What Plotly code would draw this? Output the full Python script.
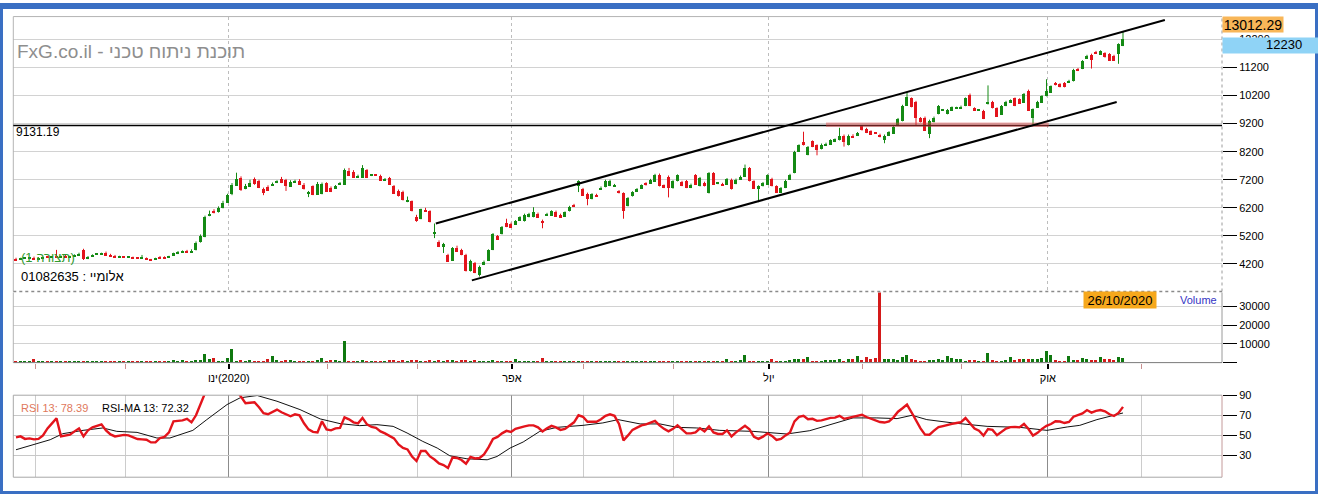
import plotly.graph_objects as go

# ---------------- data ----------------
O = [
4390,4360,4400,4410,4440,4390,4420,4450,4430,4480,
4440,4490,4460,4480,4520,4720,4390,4480,4540,4560,
4600,4530,4490,4460,4450,4430,4440,4420,4410,4410,
4360,4370,4460,4450,4440,4510,4560,4630,4650,4640,
4700,4980,5180,5950,6100,6060,6200,6400,6690,7000,
7290,6900,6970,7230,7160,6880,6970,7010,7100,7250,
7190,6970,7120,7180,7040,6700,6980,6680,6700,7090,
6930,6900,7040,7040,7530,7500,7300,7290,7550,7350,
7370,7350,7180,7280,6990,6830,6790,6440,6440,5900,
5810,6130,6090,5290,5000,4820,4530,4330,4770,4710,
4530,3950,4240,3830,4180,4330,4710,5200,5270,5670,
5640,5620,5760,5730,5880,5880,6000,5760,5940,5940,
6080,5970,5900,6090,6310,6990,6890,6720,6520,6680,
6870,6950,6990,6990,6810,6730,6270,6620,6790,6890,
7090,7070,7150,7390,7010,7330,6920,7160,7135,7160,
6920,7370,6980,7100,6730,7450,7065,7065,7040,7220,
7065,7220,7330,7630,7160,6870,6980,7040,7250,6980,
6750,6920,7210,7450,8210,8560,8090,8580,8440,8300,
8440,8470,8560,8620,8790,8440,8790,8790,9120,9030,
8940,8850,8820,8620,8790,8850,9150,9300,9850,10110,
9990,9410,9430,8850,9260,9550,9670,9550,9670,9770,
9760,9840,10250,9760,9670,9670,9900,9990,9760,9530,
9840,9960,10110,10080,9960,10390,9430,9780,9960,10190,
10310,10660,10620,10660,10690,10720,11160,11160,11530,11670,
11770,11670,11720,11690,11630,11690,11980]

H = [
4420,4420,4430,4440,4460,4440,4460,4470,4480,4700,
4500,4520,4490,4540,4600,4740,4480,4540,4580,4600,
4640,4560,4520,4490,4460,4460,4460,4440,4520,4430,
4380,4420,4480,4470,4490,4600,4660,4680,4700,4720,
5000,5250,5920,6100,6150,6250,6450,6700,7080,7450,
7320,7050,7200,7280,7200,6920,7000,7100,7180,7300,
7230,7180,7200,7220,7080,6800,7000,7120,7100,7110,
6960,7010,7120,7600,7620,7540,7380,7720,7580,7400,
7390,7380,7260,7300,7010,6850,6810,6600,6460,5950,
6170,6200,6110,5640,5040,4950,4560,4800,4850,4740,
4560,4350,4270,4140,4320,4720,5300,5230,5550,5810,
5670,5760,5900,5990,6020,6220,6030,5780,6020,6110,
6100,5990,6070,6270,6340,7180,6910,6740,6720,6700,
6960,7200,7200,7050,6830,6750,6580,6790,6900,7030,
7110,7230,7410,7420,7030,7350,7180,7390,7160,7190,
7060,7400,7300,7130,7470,7470,7120,7090,7260,7240,
7240,7350,7740,7650,7180,7000,7120,7390,7270,7000,
6940,7200,7410,8230,8460,8910,8400,8600,8460,8490,
8520,8640,8670,9050,8810,8810,8820,8900,9140,9050,
8960,8870,8840,8810,8930,9110,9400,9870,10320,10130,
10010,9430,9450,9340,9450,9860,9720,9720,9810,9800,
9840,10130,10270,9780,9700,9690,10560,10010,9780,9860,
10010,10060,10130,10100,10290,10410,9740,10010,10210,10780,
10560,10680,10640,10680,10760,11150,11180,11460,11650,11690,
11790,11810,11740,11710,11650,12060,12480]

L = [
4330,4350,4380,4400,4380,4380,4400,4420,4420,4420,
4420,4450,4440,4470,4510,4340,4370,4460,4520,4540,
4520,4480,4450,4440,4410,4420,4390,4390,4390,4380,
4340,4360,4390,4390,4420,4500,4550,4610,4620,4620,
4680,4960,5150,5900,6000,6030,6180,6380,6650,6980,
6800,6860,6940,7020,6900,6650,6800,6980,7080,7080,
6800,6950,7100,7020,6850,6580,6650,6660,6680,6780,
6760,6880,7020,7020,7330,7270,7280,7270,7260,7330,
7340,7160,7160,7020,6690,6600,6460,6400,6070,5700,
5790,6070,5680,5120,4800,4590,4280,4310,4630,4510,
3930,3930,3870,3750,4160,4310,4690,5060,5250,5510,
5480,5600,5740,5710,5860,5860,5840,5470,5920,5920,
5880,5840,5880,6070,6240,6760,6620,6290,6500,6610,
6850,6930,6970,6970,6710,5810,6250,6600,6770,6870,
6990,7050,7130,6960,6900,6570,6880,7140,6970,6900,
6900,7020,6960,6960,6710,7020,7040,7000,7020,6850,
7040,7200,7310,7140,6880,6400,6960,7020,6960,6730,
6730,6900,7190,7430,8190,8420,8070,8360,8070,8280,
8420,8450,8540,8600,8380,8420,8710,8770,8950,8860,
8800,8830,8710,8500,8770,8830,9130,9280,9830,9780,
9150,9240,8940,8680,9240,9530,9650,9530,9650,9750,
9740,9820,9820,9650,9650,9360,9880,9740,9440,9510,
9820,9940,9820,9910,9940,9650,9150,9760,9940,10170,
10290,10560,10490,10490,10670,10700,11070,11140,11510,11160,
11690,11650,11550,11440,11440,11330,11960]

C = [
4350,4400,4410,4430,4390,4420,4450,4430,4470,4440,
4490,4460,4480,4520,4580,4380,4470,4530,4560,4570,
4530,4490,4460,4470,4430,4440,4400,4400,4420,4390,
4350,4400,4400,4400,4470,4590,4640,4650,4640,4670,
4950,5200,5880,6000,6050,6200,6400,6670,7040,7250,
6850,7000,7090,7050,6930,6760,6830,7070,7160,7100,
6990,7150,7160,7040,6870,6780,6680,7080,7080,6790,
6780,6990,7090,7550,7350,7290,7350,7640,7280,7370,
7360,7180,7230,7040,6710,6620,6480,6490,6090,5730,
6160,6090,5700,5350,4820,4915,4300,4790,4650,4530,
3950,4330,3890,4120,4300,4710,5270,5080,5530,5530,
5500,5740,5880,5970,6000,6050,5860,5700,6000,6090,
5900,5860,6050,6250,6260,7160,6640,6520,6700,6630,
6930,7180,7180,7020,6730,6090,6560,6770,6880,7010,
7010,7210,7390,6980,6920,6920,7160,7370,6990,6920,
7040,7040,7280,6980,7450,7040,7100,7020,7240,6870,
7220,7330,7630,7160,6900,6980,7100,7370,6980,6750,
6920,7180,7390,8210,8440,8440,8380,8380,8270,8470,
8500,8620,8650,8790,8560,8790,8730,8880,8970,8880,
8820,8845,8730,8790,8910,9090,9380,9850,10150,9800,
9430,9260,8960,9320,9430,9840,9700,9700,9790,9790,
9820,10110,9840,9670,9690,9380,9990,9760,9460,9840,
9990,10040,9840,9930,10270,9670,9720,9990,10190,10370,
10540,10580,10510,10510,10740,11130,11090,11440,11630,11480,
11710,11790,11570,11460,11460,12040,12230]

VOL = [
700,600,800,700,1750,600,700,600,700,800,
600,700,600,700,600,800,700,600,700,600,
700,600,700,600,700,600,700,800,600,700,
600,700,600,700,800,1000,700,1200,700,800,
1200,1300,4400,1750,2300,700,600,2300,6800,700,
1200,700,900,700,700,800,1750,3500,900,700,
1100,1100,700,800,700,800,700,1200,2300,700,
1100,1100,700,11000,800,700,800,1000,700,600,
700,800,700,900,1100,800,900,700,900,1000,
800,700,900,700,1100,800,1100,900,800,900,
1200,800,900,800,700,800,900,700,800,700,
800,1600,700,800,700,800,700,2100,700,800,
700,800,700,600,700,800,700,800,700,600,
700,600,700,600,700,800,700,600,700,600,
700,600,700,800,700,800,700,600,700,800,
700,600,700,800,700,800,700,600,1750,700,
800,900,3700,800,700,700,600,700,1750,700,
600,700,900,1600,1600,1600,2600,700,800,700,
1000,1000,900,1600,800,1600,1600,3200,1400,2600,
1900,2300,45000,1600,1600,1600,900,2600,3700,1600,
900,700,700,1000,1000,1600,1000,3500,2100,1600,
1600,700,1000,1000,700,700,4700,1000,700,700,
900,2600,1000,1750,1600,1600,1600,1900,2300,5800,
3700,1000,500,500,3200,1200,1000,2300,1750,1400,
900,2500,1900,1750,1200,2500,2100]

RSI = [
48,49,46.5,47,46,46.5,50,57,62,67,
49,50,50.7,54,57,49,55,58,59.7,61,
55,51,49,49.5,50.5,50,48,46.4,46,45.7,
43,43,47.4,48.5,53,64,64.5,65,66.5,63,
70,80,92,93,92,94,95,96,97,95,
88,82,82.5,83,78,72,71,73,75.7,73,
71,69,71,70,62,56,53.5,53,64,56,
55,57,57.4,68,66,63,62,67.4,61,58.4,
57.5,54,52,49.5,47,41,37.5,36,29,24.5,
34.5,34.5,29,26,22,20.5,17.5,28,27.5,25.5,
21.8,28.5,27,27.5,31,38,46.5,48.5,52,54.5,
53.5,56.5,57.4,59,60,60,58,54,57,59.5,
58,55.5,56.5,60,63,70,68.5,63.5,63.5,63.5,
66,69.5,71,69.5,61.4,45,50,55.5,57.7,60,
61,62.5,64.5,60,56.5,54,56.5,60,55.5,52,
52,53,57,54,59,53,51.4,51.4,55,49,
53,56,59.5,56,48.5,46.5,48.7,52,49.5,45.5,
46.5,50,53,64,68.5,69.5,66,66.5,64.5,65,
66.3,67.4,67.7,69.5,66.5,67.5,68.2,69.5,70.5,68.3,
66.8,64.8,63.3,62.8,64,68,73.6,77,80.6,73,
64.5,57,50.8,50.7,54.7,58.2,59.3,60.7,61.4,62.3,
63.2,67.3,62.4,56.8,54.6,49.8,56.2,55.5,50.2,53.6,
56.8,58.2,58.5,58,61.4,56.4,49.8,52.5,56.5,59.5,
61.3,64,63.8,62.3,63.4,68.6,70.1,71.8,75.2,72.7,
74.4,75.3,74,71,69.3,72.4,78.39]

# RSI-MA line (candle index, value)
MA_IDX = [0,3.8,7.6,10.4,14.9,19.3,22.4,26.9,31.3,34.2,39.3,42.4,46.9,49.8,53.6,
          58,63.1,67.6,72,76.4,80.2,83.8,86.9,90.4,93.6,96.4,100.2,104.7,106.9,109.8,
          112.7,116.4,120.2,126,130.4,133.8,138.7,143.1,146.9,151.3,156.4,163.8,171.3,
          176.4,180.9,186,191.3,195.8,199.1,202.4,208.2,215.8,223.1,229.1,233.6,236.4,
          240.2,243.1,246]
MA_VAL = [35.7,40.7,45.7,51.7,55,57.4,54,53,47.4,47.4,55,65.7,80.7,87.4,89.7,
          84,75.7,66.4,61.7,59.7,60.7,59,52.4,44,37.4,29.7,26.7,25.7,29,37.4,
          43.4,54,58,60,62.4,65.7,61.4,61.4,58,57.4,55,54,51.4,
          54.7,60.7,67.4,67.4,66.7,70,65.7,62.4,59,58,55,58.4,60,
          65.7,69,72.32]

# month boundaries on the candle index axis, and their labels
MONTH_POS = [4.4,24.4,47.3,69.3,89.3,110.2,126.2,146.2,167.3,188.2,210.2,229.3,250.2]
MONTH_LABELS = ['', '', 'ינו\u200e(2020)', '', '', 'אפר', '', '', 'יול', '', '', 'אוק', '']

PRICE_TICKS = [4200,5200,6200,7200,8200,9200,10200,11200,12200]
VOL_TICKS = [0,10000,20000,30000]
VOL_TICKTEXT = ['', '10000', '20000', '30000']
RSI_TICKS = [30,50,70,90]

PRICE_MAX = 13012.29
LAST_CLOSE = 12230
LEVEL_BLACK = 9131.19
LEVEL_RED = 9160
RED_SPAN = [180, 229.5]
CHANNEL_UP = [(93.3, 5640), (255.3, 12892)]
CHANNEL_LOW = [(101.3, 3614), (244.6, 9966)]
LAST_DATE = '26/10/2020'
RSI_LAST = 78.39
MA_LAST = 72.32

assert all(len(a) == len(O) for a in (H, L, C, VOL, RSI))
N = len(O)
IDX = list(range(N))

# ---------------- styling ----------------
W, HT = 1318, 494
def px(x): return x / W
def py(y): return 1 - y / HT

GREEN = '#148a14'
RED = '#e3141c'
VGREEN = '#0f780f'
VRED = '#d41a1a'
FONT = 'Liberation Sans, Arial, DejaVu Sans, sans-serif'

XD = [px(13.3), px(1222)]
XR = [-0.6, 268.0]
YD_P = [py(289), py(10.7)]
YD_V = [py(361), py(290)]
YD_R = [py(477), py(394)]

up = [c >= o for o, c in zip(O, C)]

fig = go.Figure()

# wicks
for flag, col in ((True, GREEN), (False, RED)):
    xs, ys = [], []
    for i in IDX:
        if up[i] == flag:
            xs += [i, i, None]
            ys += [L[i], H[i], None]
    fig.add_trace(go.Scatter(x=xs, y=ys, mode='lines', line=dict(color=col, width=1),
                             hoverinfo='skip', showlegend=False, xaxis='x', yaxis='y'))

# bodies
fig.add_trace(go.Bar(
    x=IDX, y=[max(abs(c - o), 40) for o, c in zip(O, C)], base=[min(o, c) for o, c in zip(O, C)],
    width=0.74, marker=dict(color=[GREEN if u else RED for u in up], line=dict(width=0)),
    showlegend=False, xaxis='x', yaxis='y'))

# volume
fig.add_trace(go.Bar(
    x=IDX, y=VOL, width=0.7,
    marker=dict(color=[VGREEN if u else VRED for u in up], line=dict(width=0)),
    showlegend=False, xaxis='x2', yaxis='y2'))

# RSI and its MA
fig.add_trace(go.Scatter(x=MA_IDX, y=MA_VAL, mode='lines', line=dict(color='#111111', width=1),
                         showlegend=False, xaxis='x3', yaxis='y3'))
fig.add_trace(go.Scatter(x=IDX, y=RSI, mode='lines', line=dict(color='#e3141c', width=2.4),
                         showlegend=False, xaxis='x3', yaxis='y3'))

minor_pos = [p for p, t in zip(MONTH_POS, MONTH_LABELS) if t == '']
major_pos = [p for p, t in zip(MONTH_POS, MONTH_LABELS) if t != '']
major_txt = [t for t in MONTH_LABELS if t != '']

common_y = dict(side='right', ticks='outside', ticklen=14, tickcolor='#000000', tickwidth=1,
                tickfont=dict(family=FONT, size=11, color='#000000'), zeroline=False,
                showline=False, fixedrange=True, tickformat='d')

fig.update_layout(
    width=W, height=HT, autosize=False,
    margin=dict(l=0, r=0, t=0, b=0, pad=0),
    paper_bgcolor='white', plot_bgcolor='white',
    showlegend=False, bargap=0,
    font=dict(family=FONT, size=11, color='#000'),
    xaxis=dict(domain=XD, range=XR, anchor='y', showticklabels=False, ticks='',
               tickvals=major_pos, showgrid=True, gridcolor='#bdbdbd', griddash='dot',
               zeroline=False, showline=False),
    xaxis2=dict(domain=XD, range=XR, anchor='y2', tickvals=major_pos, ticktext=major_txt,
                ticks='outside', ticklen=5, tickwidth=2, tickcolor='#000000',
                tickfont=dict(family=FONT, size=11, color='#000'),
                showgrid=False, zeroline=False, showline=False,
                minor=dict(tickvals=minor_pos, ticks='outside', ticklen=5, tickwidth=1,
                           tickcolor='#c89090', showgrid=False)),
    xaxis3=dict(domain=XD, range=XR, anchor='y3', showticklabels=False, ticks='',
                tickvals=major_pos, showgrid=True, gridcolor='#8c8c8c', gridwidth=1,
                zeroline=False, showline=False,
                minor=dict(tickvals=minor_pos, showgrid=True, gridcolor='#cccccc', ticks='')),
    yaxis=dict(domain=YD_P, range=[3218, PRICE_MAX], anchor='x', tickvals=PRICE_TICKS,
               showgrid=True, gridcolor='#d2d2d2', **common_y),
    yaxis2=dict(domain=YD_V, range=[0, 37370], anchor='x2', tickvals=VOL_TICKS,
                ticktext=VOL_TICKTEXT, showgrid=True, gridcolor='#d2d2d2', **common_y),
    yaxis3=dict(domain=YD_R, range=[8.36, 90], anchor='x3', tickvals=RSI_TICKS,
                showgrid=True, gridcolor='#c8c8c8', **common_y),
)

shapes = []
def line(xref, yref, x0, y0, x1, y1, color, width=1, dash='solid'):
    shapes.append(dict(type='line', xref=xref, yref=yref, x0=x0, y0=y0, x1=x1, y1=y1,
                       line=dict(color=color, width=width, dash=dash), layer='above'))

# panel borders
line('x domain', 'y domain', 0, 1, 1, 1, '#b4b4b4')
line('x domain', 'y domain', 0, 0, 0, 1, '#b4b4b4')
line('x domain', 'y domain', 1, 0, 1, 1, '#9a9a9a', 1, 'dot')
line('x domain', 'y domain', 0, 0, 1, 0, '#8a8a8a', 1.5, 'dot')
line('x2 domain', 'y2 domain', 0, 0, 0, 1, '#b4b4b4')
line('x2 domain', 'y2 domain', 1, 0, 1, 1, '#9a9a9a')
line('x2 domain', 'y2 domain', 0, 0, 1, 0, '#7a7a7a')
line('x3 domain', 'y3 domain', 0, 1, 1, 1, '#a8a8a8')
line('x3 domain', 'y3 domain', 0, 0, 1, 0, '#a8a8a8')
line('x3 domain', 'y3 domain', 0, 0, 0, 1, '#a8a8a8')
line('x3 domain', 'y3 domain', 1, 0, 1, 1, '#c49a9a')

# levels and channel
line('x domain', 'y', 0, LEVEL_BLACK, 1, LEVEL_BLACK, '#000000', 1.3)
line('x', 'y', RED_SPAN[0], LEVEL_RED, RED_SPAN[1], LEVEL_RED, 'rgba(222,70,70,0.45)', 4.5)
line('x', 'y', CHANNEL_UP[0][0], CHANNEL_UP[0][1], CHANNEL_UP[1][0], CHANNEL_UP[1][1], '#000000', 2)
line('x', 'y', CHANNEL_LOW[0][0], CHANNEL_LOW[0][1], CHANNEL_LOW[1][0], CHANNEL_LOW[1][1], '#000000', 2)

# blue outer frame
shapes.append(dict(type='rect', xref='paper', yref='paper', x0=0, y0=0, x1=1, y1=1,
                   line=dict(color='#3a6fc3', width=6), fillcolor='rgba(0,0,0,0)', layer='above'))
fig.update_layout(shapes=shapes)

ann = []
def text(x, y, s, size=12, color='#000', xanchor='left', **kw):
    d = dict(xref='paper', yref='paper', x=px(x), y=py(y), text=s, showarrow=False,
             xanchor=xanchor, yanchor='middle', font=dict(family=FONT, size=size, color=color))
    d.update(kw)
    ann.append(d)

text(15, 46, 'FxG.co.il - תוכנת ניתוח טכני', size=19, color='#8e8e8e')
text(14, 128, f'{LEVEL_BLACK:.2f}', size=12)
text(19, 255, '(1 תצורה)', size=13, color='#2f9a2f')
text(19, 274, '01082635 : אלומיי', size=13)
text(19, 407, f'RSI 13: {RSI_LAST:.2f}', size=11, color='#e0785c')
text(100, 407, f'RSI-MA 13: {MA_LAST:.2f}', size=11)
text(1178, 298, 'Volume', size=11, color='#3434c4')

# value boxes
ann.append(dict(xref='paper', yref='paper', x=px(1222), y=py(10), xanchor='left', yanchor='top',
                text=f'{PRICE_MAX:.2f}', showarrow=False, bgcolor='#f8b658', width=60, height=15,
                borderpad=0, align='center', font=dict(family=FONT, size=14, color='#000')))
ann.append(dict(xref='paper', yref='paper', x=px(1222), y=py(31.7), xanchor='left', yanchor='top',
                text='\u00a0', showarrow=False, bgcolor='#8fd3f6', width=95, height=15,
                borderpad=0, font=dict(family=FONT, size=12, color='#000')))
text(1304, 39.3, f'{LAST_CLOSE}', size=13, xanchor='right')
ann.append(dict(xref='paper', yref='paper', x=px(1083), y=py(289), xanchor='left', yanchor='top',
                text=LAST_DATE, showarrow=False, bgcolor='#f6a81c', width=72, height=16,
                borderpad=0, align='center', font=dict(family=FONT, size=13, color='#000')))
fig.update_layout(annotations=ann)

fig.write_html('out.html', config={'displayModeBar': False},
               post_script="document.body.style.margin='0px';")
